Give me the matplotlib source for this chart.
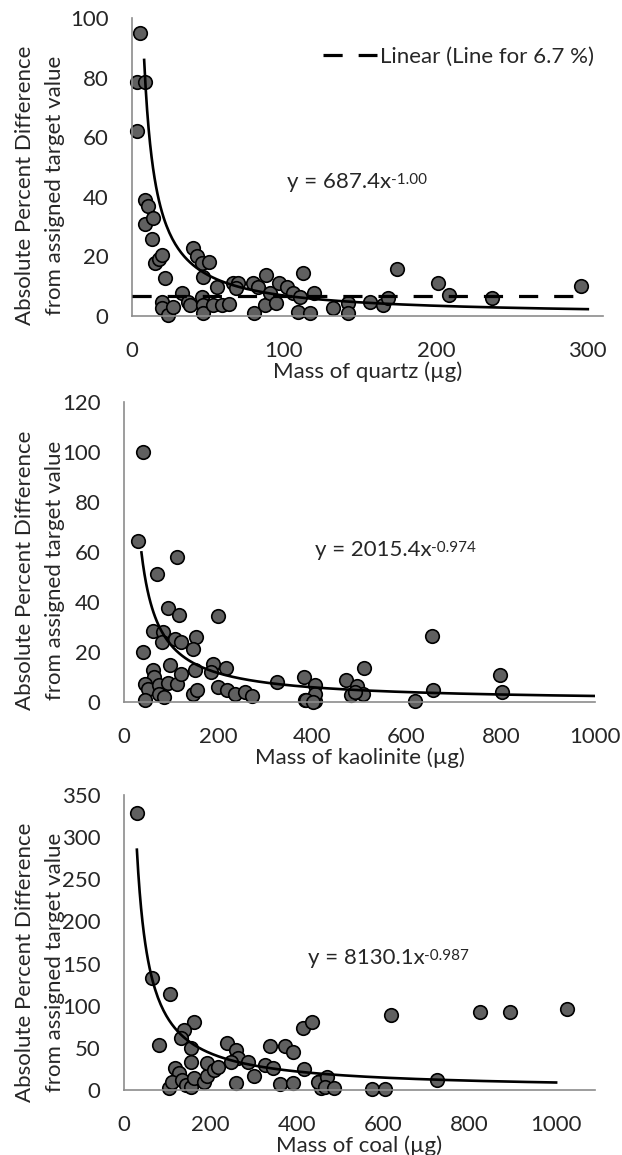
import numpy as np
import matplotlib
matplotlib.use("Agg")
import matplotlib.pyplot as plt

plt.rcParams['font.family'] = ['Lato', 'DejaVu Sans']

# quartz
quartz_mass = [5, 3.5, 8.5, 3, 8.5, 10.3, 8.5, 14, 13, 15, 18, 20, 22, 20, 19.5, 24, 27, 32.7, 37, 38,
               40, 43, 45.8, 51, 46.5, 45.8, 47, 47, 53.5, 55.7, 59, 64, 66.7, 70, 68.4, 79.8, 80.3, 83,
               87.5, 88, 90.8, 95, 97, 101.8, 106, 109, 112.7, 110.5, 117, 120, 132.5, 142.3, 142.3,
               156.6, 165, 168.6, 174.5, 201.5, 208.8, 237, 295.4]
quartz_diff = [95, 78.6, 78.6, 62, 39, 37, 31, 32.8, 26, 17.7, 19, 20.5, 12.6, 4.8, 2.6, 0.3, 3.1, 7.6, 4.8, 3.7,
               22.7, 20, 17.7, 18.2, 13.2, 6.5, 3.7, 0.9, 3.7, 9.6, 3.7, 4, 11.2, 11, 9.3, 11, 0.9, 9.6,
               3.7, 13.7, 7.6, 4.5, 11, 9.6, 7.6, 1.4, 14.3, 6.5, 0.9, 7.6, 2.6, 4.5, 1.1,
               4.8, 3.7, 6.1, 15.7, 11.2, 7.0, 6.1, 10]

# kaolinite
kaol_mass = [40, 30, 112, 71, 94, 117, 200, 41, 61, 82, 80, 108, 122, 153, 146, 61, 64, 45, 52, 45,
             75, 75, 84, 94, 98, 112, 122, 151, 146, 154, 190, 184, 217, 200, 218, 236, 257, 271, 324,
             382, 384, 405, 405, 405, 386, 402, 471, 510, 494, 483, 507, 490, 618, 653, 657, 798, 802]
kaol_diff = [100, 64.4, 58, 51.4, 37.8, 34.7, 34.3, 20, 28.4, 28, 24, 25.4, 24, 26, 21.4, 12.7, 10, 7.1, 5.3, 0.7,
             6.7, 3.4, 2, 7.6, 14.7, 7.3, 11.3, 12.7, 3.4, 4.7, 15.4, 12, 13.8, 6, 5, 3.4, 4, 2.3, 8,
             10, 0.7, 7, 0.4, 3.4, 0.7, 0, 9, 13.8, 6.3, 2.7, 3.1, 4, 0.4, 26.6, 4.7, 10.7, 4]

# coal
coal_mass = [29.6, 64.7, 107.5, 80, 162, 138.6, 131, 154, 154, 119, 127, 103.5, 111.4, 134.8, 142.5, 154,
             162, 185, 191.6, 193, 208.6, 216.6, 238, 259, 263, 247.6, 286.7, 259, 302, 325.5, 337, 345,
             360.5, 372, 392, 392, 415, 436, 417.5, 454, 455, 450, 469.6, 465.7, 485, 574.8, 604.4,
             617.5, 724, 824, 893, 1026]
coal_diff = [329, 132.5, 114, 53.4, 81, 71, 61.3, 49.4, 33.6, 25.7, 19.8, 2, 9.9, 11.9, 6, 4,
             13.9, 9.9, 16.6, 32.4, 23.7, 27.7, 56, 47.4, 37.6, 33.6, 33.6, 7.9, 16.6, 29.7, 52, 25.7,
             7.1, 52, 45.4, 8.7, 73, 81, 24.5, 11, 2, 9.9, 15.8, 4, 2, 0.8, 0.8,
             89, 11.9, 93, 93, 95.7]

# power fits: coefficient, exponent, x range, equation text
fits = [(687.4, -1.00, 8, 300, "y = 687.4x", "-1.00"),
        (2015.4, -0.974, 37, 1000, "y = 2015.4x", "-0.974"),
        (8130.1, -0.987, 29.8, 1000, "y = 8130.1x", "-0.987")]
target_line = 6.7

W, H = 622, 1155
fig = plt.figure(figsize=(W / 100, H / 100), dpi=100)

# axes boxes in pixels: left, top, right, bottom
boxes = [(132, 18, 603, 316), (124, 402, 595, 702), (124, 795, 595, 1090)]
xlims = [(0, 310), (0, 1000), (0, 1090)]
xticks = [[0, 100, 200, 300], [0, 200, 400, 600, 800, 1000], [0, 200, 400, 600, 800, 1000]]
ylims = [(0, 100), (0, 120), (0, 350)]
yticks = [np.arange(0, 101, 20), np.arange(0, 121, 20), np.arange(0, 351, 50)]
xlabels = ["Mass of quartz (\u00b5g)", "Mass of kaolinite (\u00b5g)", "Mass of coal (\u00b5g)"]
eq_pos = [(0.329, 0.45), (0.405, 0.506), (0.39, 0.447)]
ylab_y = [185, 570, 962]
data = [(quartz_mass, quartz_diff), (kaol_mass, kaol_diff), (coal_mass, coal_diff)]

fs = 16
tc = '#262626'
for i in range(3):
    l, t, r, b = boxes[i]
    ax = fig.add_axes([l / W, 1 - b / H, (r - l) / W, (b - t) / H])
    xs, ys = data[i]
    a, p, x0, x1, eq, sup = fits[i]
    xx = np.linspace(x0, x1, 300)
    ax.plot(xx, a * xx ** p, color='black', lw=1.9, zorder=3)
    if i == 0:
        ax.plot([0, 300], [target_line, target_line], color='black', lw=2.3,
                dashes=(6, 5), label="Linear (Line for 6.7 %)", zorder=3)
        leg = ax.legend(loc='center right', bbox_to_anchor=(1.0, 0.87), frameon=False,
                        handlelength=2.4, handletextpad=0.15, borderaxespad=0, fontsize=fs)
        for txt in leg.get_texts():
            txt.set_color(tc)
    ax.scatter(xs, ys, s=95, facecolor='#606060', edgecolor='black', linewidths=1.2,
               zorder=2, clip_on=False)
    ax.set_xlim(xlims[i])
    ax.set_ylim(ylims[i])
    ax.set_xticks(xticks[i])
    ax.set_yticks(yticks[i])
    ax.tick_params(length=0, labelsize=fs, colors=tc)
    ax.tick_params(axis='x', pad=18)
    ax.tick_params(axis='y', pad=17)
    for s in ['top', 'right']:
        ax.spines[s].set_visible(False)
    for s in ['left', 'bottom']:
        ax.spines[s].set_color('#8c8c8c')
        ax.spines[s].set_linewidth(1.2)
    ax.set_xlabel(xlabels[i], fontsize=fs, color=tc, labelpad=0)
    t_eq = ax.text(eq_pos[i][0], eq_pos[i][1], eq, transform=ax.transAxes, fontsize=fs,
                   va='center', ha='left', color=tc)
    ax.annotate(sup, xy=(1.0, 0.95), xycoords=t_eq, ha='left', va='top',
                fontsize=11, color=tc)
    fig.text(25 / W, 1 - ylab_y[i] / H, "Absolute Percent Difference", rotation=90,
             ha='center', va='center', fontsize=fs, color=tc)
    fig.text(55 / W, 1 - ylab_y[i] / H, "from assigned target value", rotation=90,
             ha='center', va='center', fontsize=fs, color=tc)

plt.savefig('out.png', dpi=100)
